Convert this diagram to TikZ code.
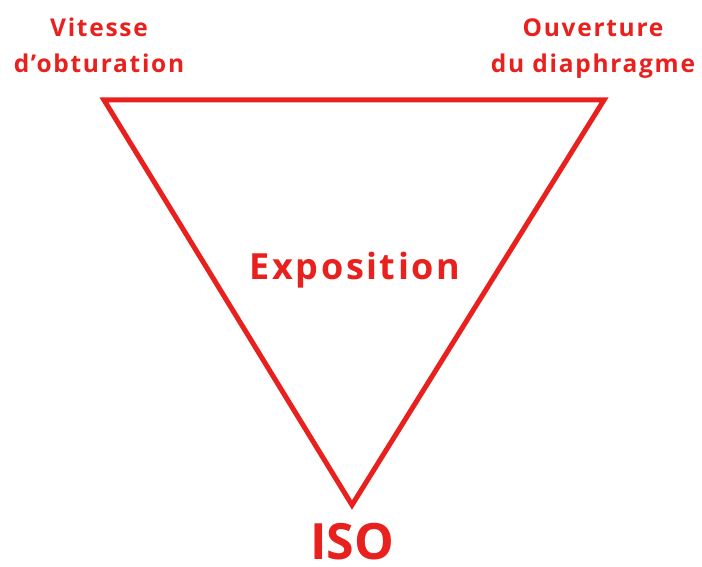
\documentclass[tikz,border=0pt]{standalone}
\usepackage{fontspec}
\setmainfont{Open Sans}
\usetikzlibrary{positioning}
\definecolor{expoRed}{HTML}{E8201E}
\tikzset{
  corner/.style={font=\fontsize{24.5}{36}\selectfont\bfseries\addfontfeature{LetterSpace=7}, text=expoRed, align=center, anchor=base, inner sep=0pt},
  centre/.style={font=\fontsize{36}{40}\selectfont\bfseries\addfontfeature{LetterSpace=7}, text=expoRed, anchor=base, inner sep=0pt, text depth=0pt},
  edge/.style={draw=expoRed, line width=5pt, line join=miter}
}
\begin{document}
\begin{tikzpicture}[x=1pt, y=-1pt]
  \useasboundingbox (0,0) rectangle (702,567);
  % triangle corners
  \coordinate (speed) at (104,100);
  \coordinate (aperture) at (604,100);
  \coordinate (iso) at (352,505);
  \draw[edge] (speed) -- (aperture) -- (iso) -- cycle;
  % labels
  \node[corner] (speedlbl) at (99,73) {Vitesse\\d’obturation};
  \node[corner] (aperturelbl) at (593,73) {Ouverture\\du diaphragme};
  \node[centre] (expo) at (355,279) {Exposition};
  \node[centre, font=\fontsize{50}{54}\selectfont\bfseries] (isolbl) at (352,559) {ISO};
\end{tikzpicture}
\end{document}
